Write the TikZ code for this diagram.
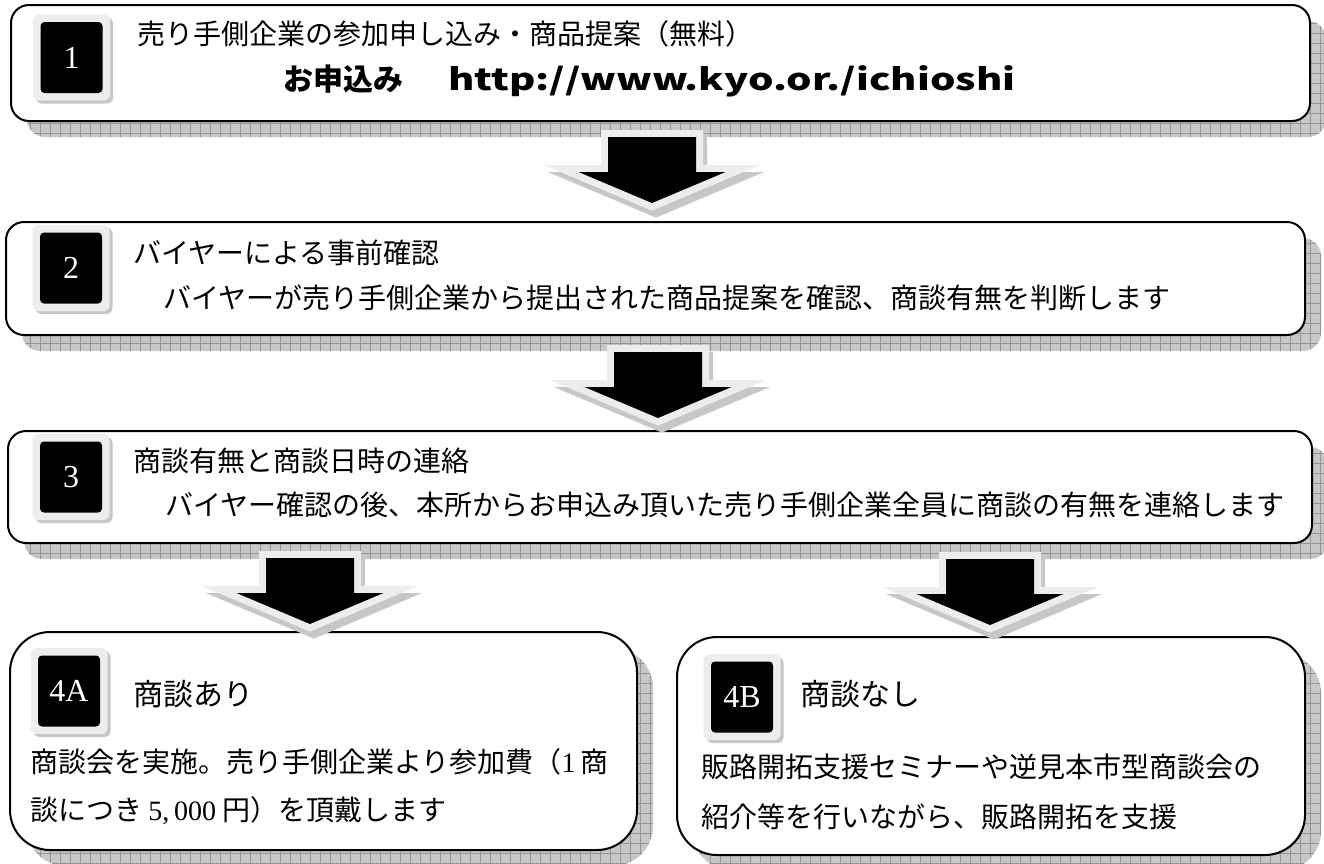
\documentclass[tikz,border=0pt]{standalone}
\usepackage{fontspec}
\usepackage{graphicx}
\setmainfont{Liberation Serif}
\newfontfamily\jp{Noto Sans CJK JP}
\usetikzlibrary{shadows,patterns.meta,calc}
\definecolor{shfill}{gray}{0.78}
\definecolor{shline}{gray}{0.58}
\definecolor{framecol}{gray}{0.93}
\tikzset{
  shadowbg/.style={fill=shfill, postaction={pattern={Hatch[distance=10pt,line width=0.7pt]}, pattern color=shline}},
  stepbox/.style={draw=black, line width=2pt, fill=white, rectangle, inner sep=0pt, outer sep=0pt},
  badge/.style={rectangle, fill=framecol, rounded corners=6pt, minimum width=77pt, minimum height=86pt,
    inner sep=0pt, text=white, font=\fontsize{32}{32}\selectfont,
    path picture={\fill[black, rounded corners=4pt] ([shift={(7.5pt,7.5pt)}]path picture bounding box.south west) rectangle ([shift={(-7.5pt,-7.5pt)}]path picture bounding box.north east);},
    drop shadow={shadow xshift=3pt, shadow yshift=-3pt, fill=shfill, opacity=1}},
  txt/.style={inner sep=0pt, anchor=base west, font=\jp\fontsize{28}{28}\selectfont},
  ttl/.style={inner sep=0pt, anchor=base west, font=\jp\fontsize{30}{30}\selectfont},
  url/.style={inner sep=0pt, anchor=base west, font=\jp\bfseries\fontsize{30}{30}\selectfont},
  arrframe/.style={draw=framecol, line width=14pt, line join=miter},
  arrshadow/.style={fill=shfill, draw=shfill, line width=14pt, line join=miter},
}
\newcommand\arrowpath{(-44,0) -- (44,0) -- (44,35) -- (73.5,35) -- (0,66) -- (-73.5,35) -- (-44,35) -- cycle}
\newcommand\blockarrow[3]{%
  \coordinate (#1) at (#2,#3);
  \begin{scope}[shift={(#1)}]
    \path[arrshadow] [shift={(4,7)}] \arrowpath;
    \path[arrframe] \arrowpath;
    \fill[black] \arrowpath;
  \end{scope}}
\begin{document}
\begin{tikzpicture}[x=1pt,y=-1pt]
\useasboundingbox (0,0) rectangle (1324,863);
% boxes (nodes) first placed invisibly to get anchors
\path node[stepbox, draw=none, fill=none, minimum width=1299pt, minimum height=116pt] (b1) at (660.5,63) {}
      node[stepbox, draw=none, fill=none, minimum width=1299pt, minimum height=113pt] (b2) at (655.5,278.5) {}
      node[stepbox, draw=none, fill=none, minimum width=1304pt, minimum height=112pt] (b3) at (660,487) {}
      node[stepbox, draw=none, fill=none, minimum width=627pt, minimum height=218pt] (b4a) at (323.5,741) {}
      node[stepbox, draw=none, fill=none, minimum width=628pt, minimum height=218pt] (b4b) at (991,746) {};
% shadows
\foreach \b/\r in {b1/18pt,b2/18pt,b3/18pt,b4a/40pt,b4b/40pt}{
  \path[shadowbg, rounded corners=\r] ([xshift=16pt,yshift=-16pt]\b.north west) rectangle ([xshift=16pt,yshift=-16pt]\b.south east);
}
% boxes
\foreach \b/\r in {b1/18pt,b2/18pt,b3/18pt,b4a/40pt,b4b/40pt}{
  \draw[stepbox, rounded corners=\r] (\b.north west) rectangle (\b.south east);
}
% arrows
\blockarrow{a1}{652}{137}
\blockarrow{a2}{658}{352}
\blockarrow{a3}{310}{558}
\blockarrow{a4}{990}{559}
% badges
\node[badge] (n1) at (71.5,57.5) {1};
\node[badge] (n2) at (71,268) {2};
\node[badge] (n3) at (71,477) {3};
\node[badge] (n4a) at (69,691) {4A};
\node[badge] (n4b) at (742,697) {4B};
% texts
\node[txt] (t1a) at (137,44) {売り手側企業の参加申し込み・商品提案（無料）};
\node[url] (t1b) at (283,90) {お申込み};
\node[url] (t1c) at (448,90) {\resizebox{567pt}{\height}{http://www.kyo.or./ichioshi}};
\node[txt] (t2a) at (133,263) {バイヤーによる事前確認};
\node[txt] (t2b) at (163,308) {バイヤーが売り手側企業から提出された商品提案を確認、商談有無を判断します};
\node[txt] (t3a) at (133,471) {商談有無と商談日時の連絡};
\node[txt] (t3b) at (165,515) {バイヤー確認の後、本所からお申込み頂いた売り手側企業全員に商談の有無を連絡します};
\node[ttl] (t4a) at (133,705) {商談あり};
\node[txt] (t4a1) at (30,772) {商談会を実施。売り手側企業より参加費（{\rmfamily 1}\,商};
\node[txt] (t4a2) at (30,820) {談につき {\rmfamily 5,\,000} 円）を頂戴します};
\node[ttl] (t4b) at (800,705) {商談なし};
\node[txt] (t4b1) at (701,777) {販路開拓支援セミナーや逆見本市型商談会の};
\node[txt] (t4b2) at (701,827) {紹介等を行いながら、販路開拓を支援};
\end{tikzpicture}
\end{document}
